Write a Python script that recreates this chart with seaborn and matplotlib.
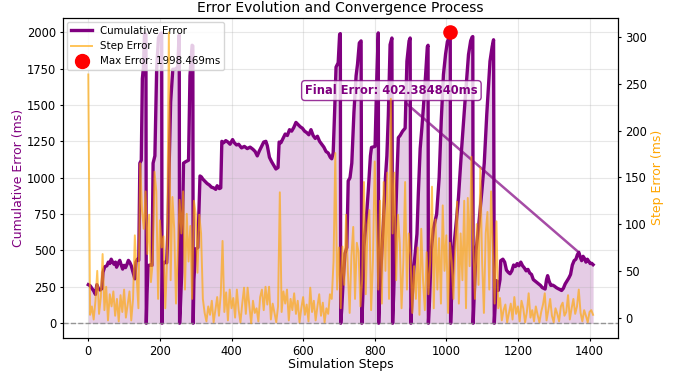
import numpy as np
import pandas as pd
import matplotlib
matplotlib.use("Agg")
import matplotlib.pyplot as plt
import seaborn as sns
from matplotlib.lines import Line2D

# ---------------- data ----------------
cum_steps = [
    0, 5, 10, 15, 20, 24, 28, 33, 38, 41, 46, 52, 56, 60, 64, 68, 72, 76, 79, 84,
    88, 92, 96, 100, 104, 108, 112, 116, 120, 125, 130, 133, 137, 141,
    144, 148, 151, 154, 157, 161, 162,
    164, 167, 172, 178, 181, 186, 191, 196, 202, 205, 206,
    208, 213, 219, 223, 226, 230, 236, 242, 250, 253, 254, 255,
    257, 261, 266, 272, 280, 284, 290, 292, 293,
    295, 300, 306, 312, 316, 320, 326, 332, 338, 344, 350, 356, 360, 366, 370,
    373, 378, 384, 390, 396, 403, 408, 414, 420, 428, 436, 444, 452, 460, 466,
    472, 478, 484, 490, 496, 500, 506, 512, 518, 524, 530, 533, 538, 544, 550,
    556, 562, 568, 574, 580, 586, 592, 598, 604, 610, 616, 622, 628, 634, 640,
    646, 652, 658, 664, 670, 676, 680, 684, 688, 692, 698, 702, 704, 705,
    708, 712, 717, 722, 726, 731, 736, 742, 748, 752, 757, 762, 764,
    767, 770, 776, 782, 788, 791, 801, 806, 810, 811,
    814, 820, 824, 830, 834, 838, 843, 848, 850,
    853, 857, 862, 866, 871, 878, 885, 890, 896, 899, 901,
    904, 910, 918, 922, 927, 932, 936, 942, 947, 949, 950,
    953, 958, 964, 973, 980, 986, 992, 998, 1003, 1008, 1010, 1011, 1012,
    1015, 1020, 1028, 1034, 1043, 1053, 1062, 1068, 1072, 1074, 1075,
    1078, 1083, 1090, 1099, 1106, 1113, 1122, 1128, 1132, 1134,
    1137, 1140, 1145, 1150, 1152, 1158, 1163, 1168, 1173, 1178, 1183, 1188,
    1193, 1198, 1203, 1208, 1213, 1218, 1223, 1228, 1233, 1238, 1243, 1248,
    1253, 1258, 1263, 1268, 1272, 1276, 1280, 1283, 1287, 1292, 1297, 1302,
    1307, 1312, 1317, 1322, 1327, 1332, 1337, 1342, 1347, 1352, 1357, 1362,
    1366, 1370, 1374, 1378, 1382, 1386, 1390, 1394, 1398, 1402, 1406, 1410,
]
cum_values = [
    265, 258, 240, 222, 198, 265, 240, 228, 238, 350, 388, 395, 420, 410, 440, 420, 405, 420, 385, 415,
    432, 400, 372, 398, 382, 405, 432, 418, 395, 350, 305, 420, 440, 432,
    1100, 1120, 1680, 1760, 1990, 1985, 0,
    200, 396, 400, 398, 1100, 1150, 1750, 1960, 1990, 1995, 0,
    400, 420, 415, 695, 1100, 1520, 1745, 1745, 1760, 1950, 1980, 0,
    100, 350, 1100, 1110, 1120, 1700, 1910, 1905, 0,
    300, 510, 520, 1012, 1005, 990, 975, 960, 950, 935, 930, 920, 945, 925, 930,
    1250, 1240, 1255, 1245, 1230, 1262, 1240, 1225, 1230, 1205, 1215, 1200, 1210, 1195, 1180,
    1150, 1185, 1215, 1245, 1250, 1220, 1140, 1110, 1085, 1060, 1070, 1245, 1240, 1270, 1300,
    1290, 1330, 1320, 1345, 1380, 1365, 1350, 1340, 1320, 1310, 1295, 1330, 1290, 1270, 1285,
    1250, 1230, 1210, 1180, 1170, 1140, 1130, 1170, 1450, 1760, 1790, 1985, 1990, 0,
    100, 300, 480, 520, 978, 1000, 1100, 1450, 1700, 1780, 1926, 1940, 0,
    200, 524, 700, 910, 1150, 1208, 1215, 1700, 1995, 0,
    200, 500, 680, 1000, 1150, 1423, 1914, 1960, 0,
    200, 600, 1000, 1275, 1290, 1320, 1340, 1800, 1940, 1960, 0,
    150, 400, 613, 900, 1200, 1350, 1483, 1700, 1900, 1910, 0,
    150, 500, 650, 750, 1000, 1400, 1709, 1850, 1935, 1960, 1998.469, 1990, 0,
    200, 500, 700, 866, 1208, 1550, 1846, 1940, 1966, 1970, 0,
    200, 500, 660, 900, 1100, 1435, 1800, 1900, 1948, 0,
    150, 293, 225, 300, 430, 440, 420, 365, 350, 340, 360, 400,
    390, 410, 395, 420, 395, 380, 360, 370, 345, 335, 300, 290,
    280, 270, 260, 245, 240, 235, 300, 327, 290, 260, 262, 255,
    245, 238, 232, 225, 240, 270, 290, 310, 335, 400, 430, 440,
    470, 488, 455, 430, 460, 445, 420, 440, 425, 410, 412, 402.38484,
]

# step error, one value every 5 simulation steps (0 ... 1410)
step_err_start = [260, 3, 12, -2, 18, 50, 4, 22, 68, 8, 33, -3, 25, 12, 28, 2, 20, -4,
                  24, 6, 30, 0, 14, 28, -3, 20, 88]
step_err_burst1 = [44, 10, 165, 114, 95, 135, 68, 110, 38, 60, 156, 135, 20, 104, 75,
                   87, 10, 60, 305, 40, 129, 95, 15, 70, 126, 90, 135, 30, 111, 60,
                   98, 20, 125, 111, 48, 110, 90]
step_err_calm1 = [20, 5, -4, 12, 3, 18, -5, 8, 22, 2, 25, 82, 6, 27, -3, 30, 10, 21,
                  0, 30, 8, -5, 15, 32, 4, 32, 12, -6, 18, 5, 10, -4, 22, 30, 8, 33,
                  14, 33, -2, 15, 5, -5, 12, 134, 6, 28, 15, 30, -3, 20, 8, 26, 4,
                  18, -5, 10, 22, 3, 14, -4, 32, 6, 18, -3, 12, 25, 2, 16, -5, 10,
                  4, 25, 20]
step_err_rise = [60, 176, 30, 75]
step_err_burst2 = [10, 76, 35, 110, 50, 5, 66, 97, 20, 80, 70, 12, 40, 145, 25, 100,
                   115, 8, 60, 167, 100, 30, 125, 15, 145, 50, 155, 20, 234, 90, 155,
                   40, 110, 80, 10, 60, 145, 30, 90, 65, 5, 55, 20, 75, 3, 95, 40, 8,
                   70, 25, 60, 140, 10, 105, 30, 85, 15, 120, 50, 88, 5, 80, 60, 20,
                   72, 124, 15, 90, 40, 125, 10, 128, 55, 172, 78, 20, 100, 35, 160,
                   60, 5, 90, 113, 30, 135, 70, 15, 103]
step_err_calm2 = [10, 21, -3, 8, 14, -5, 5, 15, -2, 22, 4, 12, -4, 18, 10, -5, 6, 26,
                  0, 8, -4, 12, 3, -5, 6, 14, 26, -3, 8, 20, 2, -5, 10, 4, -4, 12, 16,
                  2, 6, 24, -2, 10, 20, 4, 12, 30, 5, -4, 8, 2, -5, 6, 8, 3]

max_step = 1010
max_error = 1998.469
final_error = 402.384840

step_values = (step_err_start + step_err_burst1 + step_err_calm1 + step_err_rise
               + step_err_burst2 + step_err_calm2)
step_steps = np.arange(len(step_values)) * 5

cum_df = pd.DataFrame({"step": cum_steps, "cumulative": cum_values})
step_df = pd.DataFrame({"step": step_steps, "error": step_values})

# ---------------- plot ----------------
fig, ax1 = plt.subplots(figsize=(6.78, 3.72), dpi=100)
fig.subplots_adjust(left=0.093, right=0.912, top=0.952, bottom=0.092)
ax2 = ax1.twinx()

purple = "purple"
orange = "orange"

sns.lineplot(data=cum_df, x="step", y="cumulative", ax=ax1, color=purple,
             linewidth=2.4, legend=False)
ax1.fill_between(cum_df["step"], cum_df["cumulative"], alpha=0.2, color=purple,
                 linewidth=0)
ax1.axhline(0, color="gray", linestyle="--", alpha=0.8, linewidth=1)
ax1.scatter([max_step], [max_error], color="red", s=90, zorder=5)

sns.lineplot(data=step_df, x="step", y="error", ax=ax2, color=orange,
             linewidth=1.4, alpha=0.65, legend=False)

ax1.set_xlabel("Simulation Steps", fontsize=9, labelpad=0)
ax1.set_ylabel("Cumulative Error (ms)", color=purple, fontsize=9, labelpad=1)
ax2.set_ylabel("Step Error (ms)", color=orange, fontsize=9, labelpad=3)
ax1.set_title("Error Evolution and Convergence Process", fontsize=10, pad=4)
ax1.tick_params(labelsize=8.3, length=2.5, pad=2.5)
ax2.tick_params(labelsize=8.3, length=2.5, pad=2.5)
ax1.grid(True, alpha=0.3)

handles = [
    Line2D([], [], color=purple, linewidth=2.4),
    Line2D([], [], color=orange, linewidth=1.4, alpha=0.65),
    Line2D([], [], color="red", marker="o", linestyle="none", markersize=10),
]
labels = ["Cumulative Error", "Step Error", f"Max Error: {max_error:.3f}ms"]
ax1.legend(handles, labels, loc="upper left", fontsize=7.4, framealpha=0.8,
           borderaxespad=0.4)

ax1.annotate(f"Final Error: {final_error:.6f}ms", xy=(1371, 485),
             xytext=(846.6, 1598.8), ha="center", va="center",
             fontsize=8.3, fontweight="bold", color=purple,
             bbox=dict(boxstyle="round,pad=0.3", facecolor="white",
                       edgecolor=purple, alpha=0.8),
             arrowprops=dict(arrowstyle="-", color=purple, alpha=0.7, lw=1.8))

fig.savefig("out.png", dpi=100)
